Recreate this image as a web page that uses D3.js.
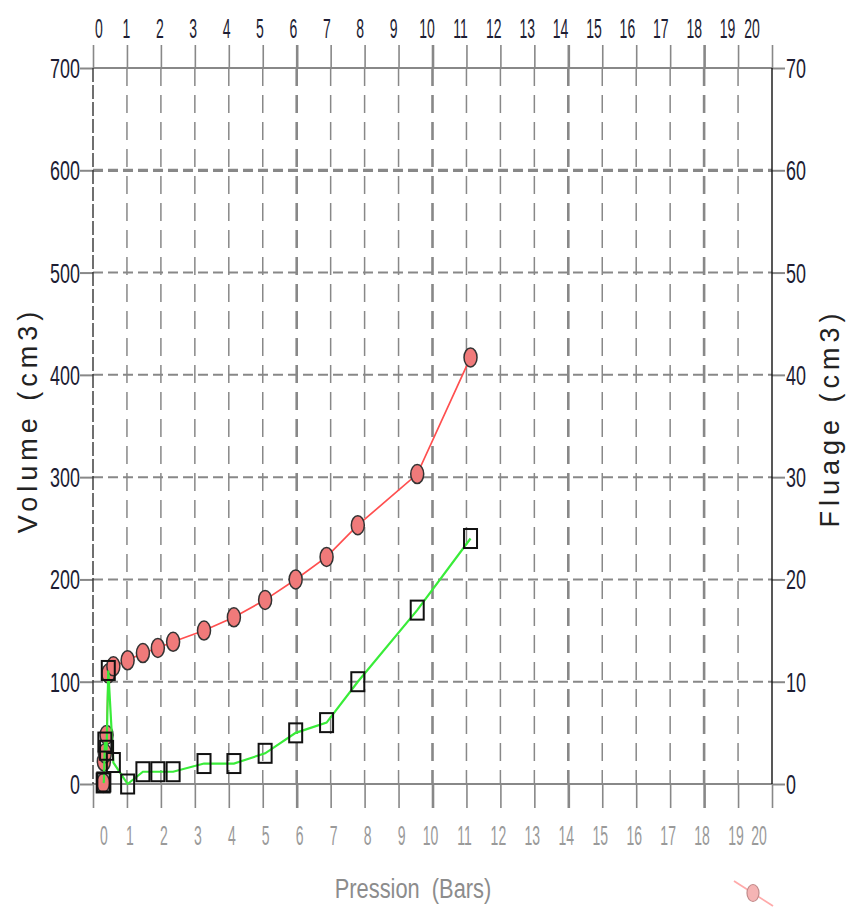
<!DOCTYPE html>
<html>
<head>
<meta charset="utf-8">
<script src="https://cdn.jsdelivr.net/npm/d3@7"></script>
<style>
  body { margin: 0; background: #fff; }
  svg { display: block; font-family: "Liberation Sans", Arial, sans-serif; }
</style>
</head>
<body>
<svg id="chart" width="849" height="909"></svg>
<script>
// Measurements: pressure (bars), volume (cm3, left axis), creep / fluage (cm3, right axis)
const pression = [0.30, 0.32, 0.35, 0.40, 0.45, 0.60, 1.02, 1.47, 1.91, 2.36, 3.27, 4.15, 5.07, 5.97, 6.88, 7.80, 9.55, 11.12];
const volume   = [1, 22, 30, 48, 108, 115, 121, 128, 133, 139, 150, 163, 180, 200, 222, 253, 303, 417];
const fluage   = [0.1, 0.2, 4.1, 3.3, 11.1, 2.1, 0, 1.2, 1.2, 1.2, 2.0, 2.0, 3.0, 5.0, 6.0, 10.0, 17.0, 24.0];

const pressionTicks = d3.range(0, 21);
const volumeTicks = [0, 100, 200, 300, 400, 500, 600, 700];
const fluageTicks = [0, 10, 20, 30, 40, 50, 60, 70];

const svg = d3.select("#chart");
const plot = { left: 93, right: 772, top: 68, bottom: 784 };

const x  = d3.scaleLinear().domain([0, 20]).range([plot.left, plot.right]);
const yV = d3.scaleLinear().domain([0, 700]).range([plot.bottom, plot.top]);
const yF = d3.scaleLinear().domain([0, 70]).range([plot.bottom, plot.top]);

const gridColor = "#888";
const isHeavy = d => d % 4 === 2 && d > 2;

// ---- vertical grid lines (dashed) ----
const grid = svg.append("g");
grid.selectAll("line.vgrid")
  .data(pressionTicks.filter(v => v > 0 && v < 20))
  .join("line")
  .attr("x1", d => x(d)).attr("x2", d => x(d))
  .attr("y1", plot.top).attr("y2", plot.bottom)
  .attr("stroke", gridColor)
  .attr("stroke-width", d => isHeavy(d) ? 2.6 : 1.5)
  .attr("stroke-dasharray", "18,9");

// ---- horizontal grid lines (dashed) ----
grid.selectAll("line.hgrid")
  .data(volumeTicks.filter(v => v > 0 && v < 700))
  .join("line")
  .attr("x1", plot.left).attr("x2", plot.right)
  .attr("y1", d => yV(d)).attr("y2", d => yV(d))
  .attr("stroke", gridColor)
  .attr("stroke-width", d => d === 600 ? 3.2 : 2)
  .attr("stroke-dasharray", "10,5");

// ---- axes: tick marks from d3 axes, labels drawn as narrow text ----
function styleAxis(g) {
  g.select(".domain").remove();
  g.selectAll(".tick line").attr("stroke", gridColor).attr("stroke-width", 1.6);
  g.selectAll(".tick text").remove();
}
svg.append("g").attr("transform", `translate(0,${plot.top})`)
  .call(d3.axisTop(x).tickValues(pressionTicks).tickSize(23)).call(styleAxis)
  .selectAll(".tick line").attr("stroke-width", d => isHeavy(d) ? 2.6 : 1.6);
svg.append("g").attr("transform", `translate(0,${plot.bottom})`)
  .call(d3.axisBottom(x).tickValues(pressionTicks).tickSize(24)).call(styleAxis)
  .selectAll(".tick line").attr("stroke-width", d => isHeavy(d) ? 2.6 : 1.6);
svg.append("g").attr("transform", `translate(${plot.left},0)`)
  .call(d3.axisLeft(yV).tickValues(volumeTicks).tickSize(13)).call(styleAxis)
  .selectAll(".tick line").attr("stroke-width", 2);
svg.append("g").attr("transform", `translate(${plot.right},0)`)
  .call(d3.axisRight(yF).tickValues(fluageTicks).tickSize(13)).call(styleAxis)
  .selectAll(".tick line").attr("stroke-width", 2);

// frame lines
const frame = svg.append("g");
frame.append("line").attr("x1", plot.left).attr("x2", plot.right)
  .attr("y1", plot.top).attr("y2", plot.top).attr("stroke", gridColor).attr("stroke-width", 2);
frame.append("line").attr("x1", plot.left).attr("x2", plot.right)
  .attr("y1", plot.bottom).attr("y2", plot.bottom).attr("stroke", gridColor).attr("stroke-width", 2);
frame.append("line").attr("x1", plot.left).attr("x2", plot.left)
  .attr("y1", plot.top).attr("y2", plot.bottom).attr("stroke", "#333").attr("stroke-width", 1.4)
  .attr("stroke-dasharray", "14,3");
frame.append("line").attr("x1", plot.right).attr("x2", plot.right)
  .attr("y1", plot.top).attr("y2", plot.bottom).attr("stroke", "#111").attr("stroke-width", 1.4);

// narrow tick labels
function narrowLabel(g, px, py, str, sx, anchor, color) {
  g.append("text")
    .attr("transform", `translate(${px},${py}) scale(${sx},1)`)
    .attr("text-anchor", anchor)
    .attr("font-size", 28)
    .attr("fill", color)
    .text(str);
}
const labels = svg.append("g");
pressionTicks.forEach(v => {
  const topShift = v === 0 ? 6 : v === 20 ? -20 : -0.55 * v;
  narrowLabel(labels, x(v) + topShift, 38, v, 0.5, "middle", "#1d1d33");
  const botShift = v === 0 ? 11 : v === 20 ? -13 : (v < 10 ? 3 : -2);
  narrowLabel(labels, x(v) + botShift, 845, v, 0.5, "middle", "#9a9a9a");
});
volumeTicks.forEach(v => narrowLabel(labels, plot.left - 13, yV(v) + 10, v, 0.64, "end", "#1d1d33"));
fluageTicks.forEach(v => narrowLabel(labels, plot.right + 14, yF(v) + 10, v, 0.64, "start", "#1d1d33"));

// axis titles
svg.append("text")
  .attr("transform", `translate(28,420) rotate(-90)`)
  .attr("text-anchor", "middle").attr("dominant-baseline", "central")
  .attr("font-size", 27).attr("letter-spacing", 5).attr("fill", "#222")
  .text("Volume (cm3)");
svg.append("text")
  .attr("transform", `translate(830,418) rotate(-90)`)
  .attr("text-anchor", "middle").attr("dominant-baseline", "central")
  .attr("font-size", 27).attr("letter-spacing", 5).attr("fill", "#222")
  .text("Fluage (cm3)");
svg.append("text")
  .attr("transform", `translate(413,898) scale(0.78,1)`)
  .attr("text-anchor", "middle")
  .attr("font-size", 28).attr("fill", "#8c8c8c")
  .attr("xml:space", "preserve")
  .text("Pression  (Bars)");

// ---- series ----
const volData = pression.map((p, i) => ({ p, v: volume[i] }));
const fluData = pression.map((p, i) => ({ p, f: fluage[i] }));

svg.append("path").datum(volData)
  .attr("fill", "none").attr("stroke", "#ff4f4f").attr("stroke-width", 1.7)
  .attr("d", d3.line().x(d => x(d.p)).y(d => yV(d.v)));
svg.append("g").selectAll("ellipse").data(volData).join("ellipse")
  .attr("cx", d => x(d.p)).attr("cy", d => yV(d.v))
  .attr("rx", 6.5).attr("ry", 9.5)
  .attr("fill", "#f07a7a").attr("stroke", "#333").attr("stroke-width", 1.5);

svg.append("path").datum(fluData)
  .attr("fill", "none").attr("stroke", "#39ec39").attr("stroke-width", 2.2)
  .attr("d", d3.line().x(d => x(d.p)).y(d => yF(d.f)));
svg.append("g").selectAll("rect").data(fluData).join("rect")
  .attr("x", d => x(d.p) - 6.5).attr("y", d => yF(d.f) - 9.5)
  .attr("width", 13).attr("height", 19)
  .attr("fill", "none").attr("stroke", "#111").attr("stroke-width", 2);

// ---- legend swatch (volume series) ----
const legend = svg.append("g");
legend.append("line").attr("x1", 734).attr("y1", 881).attr("x2", 773).attr("y2", 906)
  .attr("stroke", "#ffaaaa").attr("stroke-width", 1.8);
legend.append("ellipse").attr("cx", 753).attr("cy", 893).attr("rx", 6).attr("ry", 8.5)
  .attr("fill", "#f5b4b4").attr("stroke", "#c08a8a").attr("stroke-width", 1.2);
</script>
</body>
</html>
